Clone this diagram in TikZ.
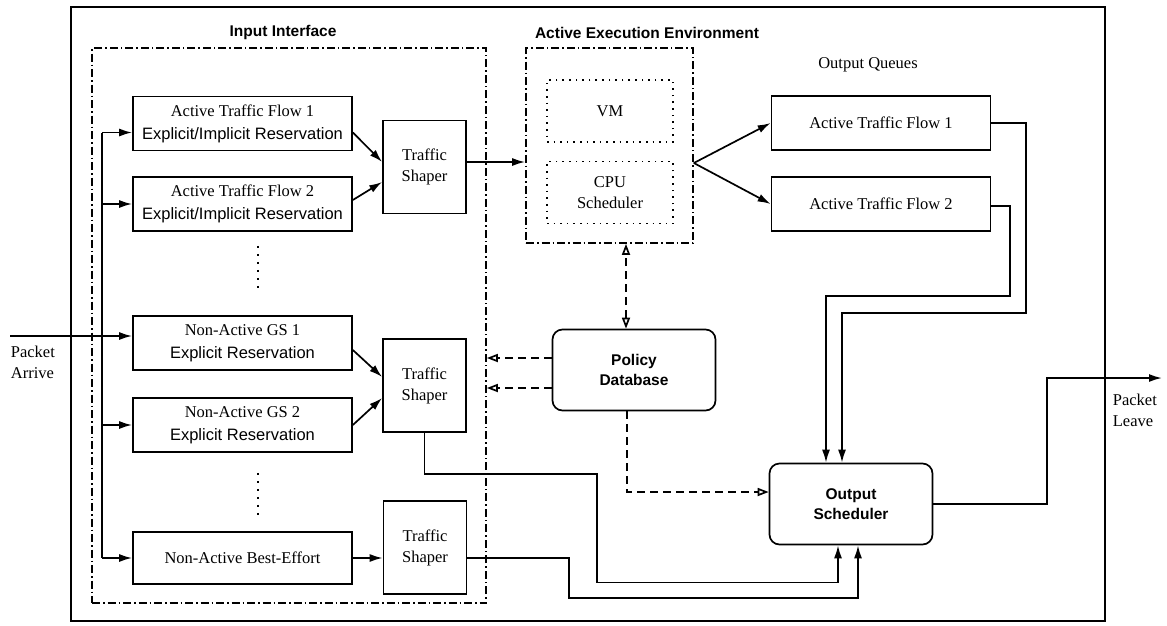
\documentclass[tikz,border=0pt]{standalone}
\usepackage{fontspec}
\setmainfont{Liberation Serif}
\setsansfont{Liberation Sans}
\usetikzlibrary{arrows.meta, calc}

\begin{document}
\begin{tikzpicture}[x=1pt, y=-1pt, line width=1.7pt,
  >={Latex[length=13pt,width=8pt]},
  txt/.style={font=\fontsize{16.5}{21}\selectfont, align=center, inner sep=0pt},
  hd/.style={font=\sffamily\bfseries\fontsize{15.5}{20}\selectfont, inner sep=0pt},
  qbox/.style={draw, txt, font=\fontsize{16.5}{23}\selectfont, minimum width=219pt, minimum height=54pt},
  shaper/.style={draw, txt, minimum width=83pt, minimum height=93pt},
  unit/.style={draw, hd, align=center, rounded corners=10pt, minimum width=163pt, minimum height=81pt},
  grp/.style={draw, dash pattern=on 8pt off 3pt on 1.5pt off 3pt, inner sep=0pt},
  sub/.style={draw, txt, dash pattern=on 1.6pt off 5pt, minimum width=126pt, minimum height=62pt},
  dots/.style={line width=2.2pt, dash pattern=on 2pt off 6pt},
  ctl/.style={dash pattern=on 8pt off 5pt, -{Triangle[open,length=11pt,width=8pt]}},
  ctl2/.style={dash pattern=on 8pt off 5pt, {Triangle[open,length=11pt,width=8pt]}-{Triangle[open,length=11pt,width=8pt]}}]
  \useasboundingbox (0,0) rectangle (1167,625);
  \node[draw, minimum width=1034pt, minimum height=614pt] (frame) at (588,314) {};

  \node[grp, minimum width=394pt, minimum height=555pt] (inif) at (289,325.5) {};
  \node[grp, minimum width=167pt, minimum height=195pt] (aee) at (609.5,145.5) {};
  \node[hd] (inlbl) at (283,32) {Input Interface};
  \node[hd] (aelbl) at (647,33) {Active Execution Environment};
  \node[sub] (vm) at (610,111) {VM};
  \node[sub] (cpu) at (610,192.5) {CPU\\Scheduler};

  \node[txt] (oqlbl) at (868,65) {Output Queues};
  \node[qbox] (q1) at (881,123) {Active Traffic Flow 1};
  \node[qbox] (q2) at (881,204) {Active Traffic Flow 2};

  \node[qbox] (f1) at (242.5,123.5) {Active Traffic Flow 1\\{\sffamily Explicit/Implicit Reservation}};
  \node[qbox] (f2) at (242.5,204) {Active Traffic Flow 2\\{\sffamily Explicit/Implicit Reservation}};
  \node[shaper] (ts1) at (424.5,167) {Traffic\\Shaper};
  \node[qbox] (g1) at (242.5,343) {Non-Active GS 1\\{\sffamily Explicit Reservation}};
  \node[qbox] (g2) at (242.5,425) {Non-Active GS 2\\{\sffamily Explicit Reservation}};
  \node[shaper] (ts2) at (424.5,385.5) {Traffic\\Shaper};
  \node[qbox, minimum height=52pt] (be) at (242.5,558) {Non-Active Best-Effort};
  \node[shaper] (ts3) at (425,547.5) {Traffic\\Shaper};

  \node[unit] (pdb) at (634,370) {Policy\\Database};
  \node[unit] (osch) at (851,504) {Output\\Scheduler};

  \node[txt, align=left, anchor=west] (arr) at (10,362) {Packet\\Arrive};
  \node[txt, align=left, anchor=west] (lv) at (1112,410) {Packet\\Leave};

  \draw[dots] ($(f2.south)+(15.5,14)$) -- ++(0,45);
  \draw[dots] ($(g2.south)+(15.5,20)$) -- ++(0,42);

  \coordinate (bus) at (102,0);
  \path (f1.west) ++(0,9) coordinate (f1in);
  \path (g1.west) ++(0,-7) coordinate (g1in);
  \draw (f1in -| bus) -- (be.west -| bus);
  \draw[->] (f1in -| bus) -- (f1in);
  \draw[->] (f2.west -| bus) -- (f2.west);
  \draw[->] (g2.west -| bus) -- (g2.west);
  \draw[->] (be.west -| bus) -- (be.west);
  \draw[->] (g1in -| arr.west) -- (g1in);

  \draw[->] ($(f1.east)+(0,9)$) -- ($(ts1.west)+(0,-5)$);
  \draw[->] ($(f2.east)+(0,-4)$) -- ($(ts1.west)+(0,15)$);
  \draw[->] ($(g1.east)+(0,7)$) -- ($(ts2.west)+(0,-8.5)$);
  \draw[->] (g2.east) -- ($(ts2.west)+(0,12.5)$);
  \draw[->] (be.east) -- (be.east -| ts3.west);

  \path (ts1.east) ++(0,-5) coordinate (t1o);
  \draw[->] (t1o) -- (t1o -| aee.west);
  \coordinate (aeo) at ($(aee.east)+(0,17.5)$);
  \draw[->] (aeo) -- (q1.west);
  \draw[->] (aeo) -- (q2.west);

  \draw[->] (q1.east) -| (1026,313) -| ($(osch.north)+(-9,0)$);
  \draw[->] ($(q2.east)+(0,2)$) -| (1010,296) -| ($(osch.north)+(-25,0)$);
  \draw[->] (ts2.south) |- (597,474) |- ($(osch.south)+(-13,37)$) -- ($(osch.south)+(-13,0)$);
  \draw[->] ($(ts3.east)+(0,10.5)$) -| (569,598) -| ($(osch.south)+(7,0)$);

  \coordinate (leave) at (1162,378);
  \draw[->] (osch.east) -| (1047,378) -- (leave);

  \path (pdb.north) ++(-8,0) coordinate (pn);
  \draw[ctl2] (pn) -- (pn |- aee.south);
  \path (pdb.west) ++(0,-12) coordinate (pw1);
  \path (pdb.west) ++(0,18) coordinate (pw2);
  \draw[ctl] (pw1) -- (pw1 -| inif.east);
  \draw[ctl] (pw2) -- (pw2 -| inif.east);
  \path (pdb.south) ++(-7,0) coordinate (ps);
  \draw[ctl] (ps) |- ($(osch.west)+(0,-12)$);
\end{tikzpicture}
\end{document}
